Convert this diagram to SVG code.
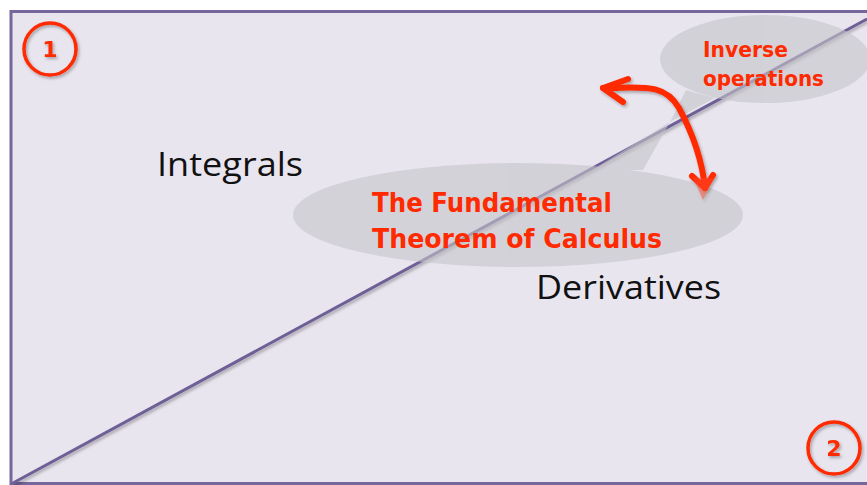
<svg xmlns="http://www.w3.org/2000/svg" width="867" height="485" viewBox="0 0 867 485">
<defs>
<style>
.frame{fill:#e8e5ef;stroke:#76669c;stroke-width:3}
.axis{stroke:#6e5e96;stroke-width:3;fill:none}
.bubble{opacity:0.6}
.bubble *{fill:#c6c5c9}
.black{font-family:"Open Sans","Liberation Sans",sans-serif;fill:#111;font-size:32px}
.red{font-family:"Comic Sans MS","DejaVu Sans",sans-serif;fill:#ff2a00;font-weight:bold}
.ring{fill:none;stroke:#ff2a00;stroke-width:3.5}
.arrow{fill:none;stroke:#ff2a00;stroke-width:6;stroke-linecap:round;stroke-linejoin:round}
</style>
<filter id="sh" x="-20%" y="-20%" width="140%" height="140%">
<feDropShadow dx="1.5" dy="2" stdDeviation="1.5" flood-color="#000" flood-opacity="0.3"/>
</filter>
</defs>
<rect class="frame" x="11" y="11.5" width="900" height="472"/>
<g id="axis"><line class="axis" x1="13" y1="483" x2="867" y2="19" filter="url(#sh)"/></g>
<g id="bubble-ftc" class="bubble">
<ellipse cx="518" cy="215" rx="225" ry="52"/>
<polygon points="592,170 670,122 643,170"/>
</g>
<g id="bubble-inverse" class="bubble">
<ellipse cx="765" cy="59" rx="105" ry="44"/>
<polygon points="686,90 670,122 715,98"/>
</g>
<g id="integrals"><text class="black" x="157" y="176" textLength="146" lengthAdjust="spacingAndGlyphs">Integrals</text></g>
<g id="derivatives"><text class="black" x="536" y="299" textLength="185" lengthAdjust="spacingAndGlyphs">Derivatives</text></g>
<g id="ftc-label">
<text class="red" font-size="27" x="372" y="212" textLength="240" lengthAdjust="spacingAndGlyphs">The Fundamental</text>
<text class="red" font-size="27" x="372" y="248" textLength="290" lengthAdjust="spacingAndGlyphs">Theorem of Calculus</text>
</g>
<g id="inverse-label">
<text class="red" font-size="22" x="703" y="57" textLength="85" lengthAdjust="spacingAndGlyphs">Inverse</text>
<text class="red" font-size="22" x="703" y="86" textLength="121" lengthAdjust="spacingAndGlyphs">operations</text>
</g>
<g id="connectors" filter="url(#sh)">
<path class="arrow" d="M603,88 C640,88 664,82 679,108 C692,132 702,160 705,188"/>
<path class="arrow" d="M628,79 L603,88 L623,102"/>
<path class="arrow" d="M692,176 L705,188 L713,175"/>
<polygon points="693,178 714,178 703,200" fill="#ff4a2a" fill-opacity="0.45"/>
</g>
<g id="marker-1" filter="url(#sh)">
<circle class="ring" cx="50" cy="49" r="26"/>
<text class="red" font-size="22" x="50" y="57" text-anchor="middle">1</text>
</g>
<g id="marker-2" filter="url(#sh)">
<circle class="ring" cx="834" cy="448" r="26"/>
<text class="red" font-size="22" x="834" y="456" text-anchor="middle">2</text>
</g>
</svg>
